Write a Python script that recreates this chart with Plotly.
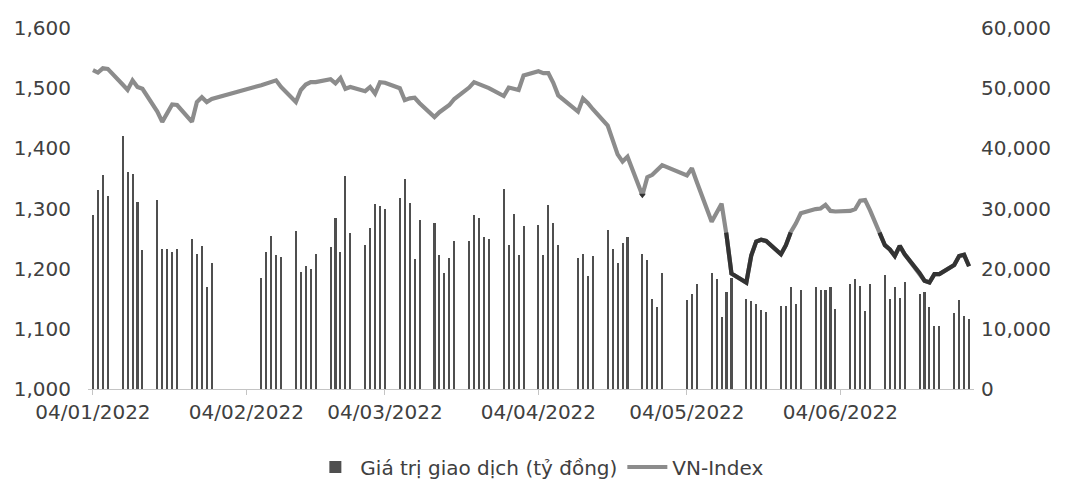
import pandas as pd
import plotly.graph_objects as go

# ---------------- data ----------------
holidays = ["2022-01-31", "2022-02-01", "2022-02-02", "2022-02-03", "2022-02-04",
            "2022-04-11", "2022-05-02", "2022-05-03"]
dates = [d for d in pd.bdate_range("2022-01-04", "2022-06-30")
         if d.strftime("%Y-%m-%d") not in holidays]

# Giá trị giao dịch (tỷ đồng)
trade_value = [
    # Jan
    28900, 33100, 35600, 32100, 42000, 36100, 35800, 31000, 23100, 31400,
    23200, 23200, 22700, 23200, 24900, 22500, 23800, 17000, 21000,
    # Feb
    18400, 22800, 25500, 22300, 21900, 26300, 19500, 20400, 19900, 22400,
    23600, 28500, 22800, 35400, 26000, 23900,
    # Mar
    26700, 30700, 30400, 29900, 31800, 34900, 30900, 21600, 28100, 27600,
    22200, 19200, 21800, 24600, 24600, 28900, 28400, 25200, 24900, 33200,
    23900, 29100, 22200,
    # Apr
    27100, 27200, 22300, 30500, 27600, 24000, 21700, 22500, 18800, 22100,
    26400, 23200, 21000, 24200, 25200, 22400, 21400, 15000, 13600, 19300,
    # May
    14800, 15800, 17500, 19200, 18300, 11900, 16200, 18400, 14900, 14600,
    14200, 13100, 12800, 13800, 13800, 17000, 14100, 16500, 16900, 16500,
    # Jun
    16500, 16900, 13300, 17500, 18300, 17200, 13000, 17500, 18900, 14900,
    17000, 15100, 17800, 15800, 16100, 13700, 10500, 10500, 12600, 14800,
    12200, 11700,
]

# VN-Index
vn_index = [
    # Jan
    1530, 1526, 1533, 1532, 1506, 1497, 1513, 1502, 1499, 1461,
    1444, 1458, 1473, 1472, 1444, 1477, 1485, 1477, 1482,
    # Feb
    1505, 1508, 1510, 1513, 1502, 1477, 1497, 1506, 1510, 1510,
    1515, 1508, 1517, 1499, 1502, 1495,
    # Mar
    1502, 1491, 1510, 1509, 1500, 1480, 1483, 1484, 1475, 1452,
    1460, 1465, 1472, 1482, 1501, 1510, 1507, 1504, 1500, 1487,
    1501, 1499, 1497,
    # Apr
    1521, 1528, 1525, 1525, 1509, 1488, 1461, 1483, 1475, 1465,
    1438, 1414, 1390, 1378, 1386, 1322, 1352, 1356, 1364, 1372,
    # May
    1355, 1367, 1344, 1278, 1293, 1308, 1256, 1192, 1177, 1222,
    1245, 1248, 1246, 1224, 1239, 1261, 1275, 1292, 1299, 1300,
    # Jun
    1306, 1296, 1295, 1296, 1299, 1313, 1314, 1297, 1239, 1232,
    1221, 1238, 1224, 1193, 1180, 1177, 1191, 1191, 1206, 1221,
    1223, 1204,
]

tick_dates = ["2022-01-04", "2022-02-04", "2022-03-04", "2022-04-04", "2022-05-04", "2022-06-04"]
tick_labels = ["04/01/2022", "04/02/2022", "04/03/2022", "04/04/2022", "04/05/2022", "04/06/2022"]

# ---------------- styling ----------------
FONT = "DejaVu Sans"
TXT = "#404040"
BAR_C = "#4f4f4f"
LINE_C = "#8c8c8c"
DARK_C = "#333333"
THRESH = 1260  # segments below this level drawn dark

# dark overlay (portions of the line below the threshold)
ts = [d.value for d in dates]
dx, dy = [], []
for i, v in enumerate(vn_index):
    below = v < THRESH
    if i > 0 and (vn_index[i - 1] < THRESH) != below:
        p = vn_index[i - 1]
        f = (THRESH - p) / (v - p)
        dx.append(pd.Timestamp(int(ts[i - 1] + f * (ts[i] - ts[i - 1]))))
        dy.append(THRESH)
        if not below:
            dx.append(None)
            dy.append(None)
    if below:
        dx.append(dates[i])
        dy.append(v)

dip_i = vn_index.index(min(vn_index[:80]))

fig = go.Figure()
fig.add_trace(go.Bar(
    x=dates, y=trade_value, name="Giá trị giao dịch (tỷ đồng)",
    marker=dict(color=BAR_C, line=dict(width=0)),
    width=0.42 * 86400000, yaxis="y",
))
fig.add_trace(go.Scatter(
    x=dates, y=vn_index, name="VN-Index", mode="lines",
    line=dict(color=LINE_C, width=4.2), yaxis="y2",
))
fig.add_trace(go.Scatter(
    x=dx, y=dy, mode="lines", showlegend=False, connectgaps=False,
    line=dict(color=DARK_C, width=4.2), yaxis="y2", hoverinfo="skip",
))
fig.add_trace(go.Scatter(
    x=[dates[dip_i]], y=[vn_index[dip_i]], mode="markers", showlegend=False,
    marker=dict(color=DARK_C, size=6, symbol="triangle-down"), yaxis="y2", hoverinfo="skip",
))

fig.update_layout(
    width=1070, height=482,
    margin=dict(l=88, r=96, t=28, b=93, autoexpand=False),
    paper_bgcolor="white", plot_bgcolor="white",
    font=dict(family=FONT, size=20, color=TXT),
    bargap=0,
    showlegend=True,
    legend=dict(orientation="h", x=0.51, xanchor="center", y=-0.216, yanchor="middle",
                font=dict(size=20, color=TXT), itemwidth=40, traceorder="normal"),
    xaxis=dict(
        type="date", range=["2022-01-03", "2022-07-01"],
        tickvals=tick_dates, ticktext=tick_labels,
        showgrid=False, zeroline=False, automargin=False,
        showline=True, linecolor="#c4c4c4", linewidth=1,
        ticks="outside", ticklen=5, tickcolor="#c4c4c4",
    ),
    yaxis=dict(
        side="right", range=[0, 60000], dtick=10000, tickformat=",",
        showgrid=False, zeroline=False, ticklabelstandoff=6, automargin=False,
    ),
    yaxis2=dict(
        overlaying="y", side="left", range=[1000, 1600], dtick=100, tickformat=",",
        showgrid=False, zeroline=False, ticklabelstandoff=16, automargin=False,
    ),
)

fig.write_html("out.html", config={"displayModeBar": False},
               post_script="document.body.style.margin='0';")
